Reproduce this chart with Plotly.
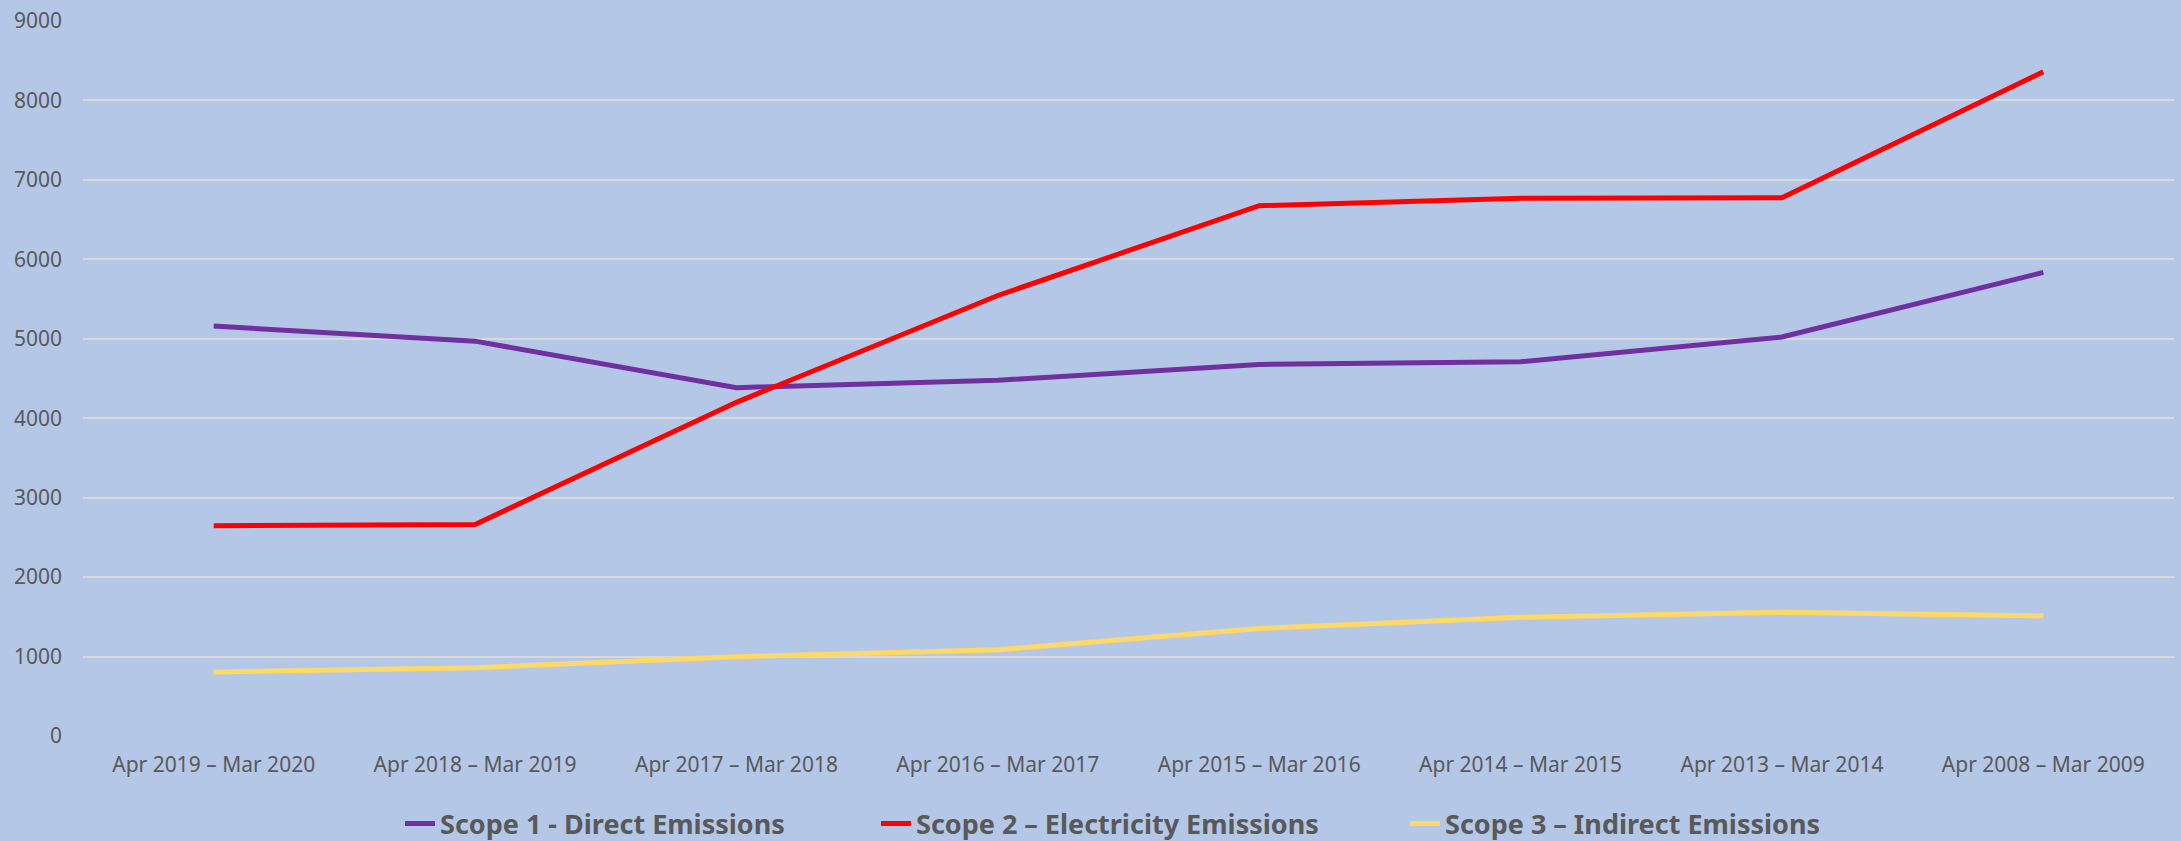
import plotly.graph_objects as go

categories = ["Apr 2019 – Mar 2020", "Apr 2018 – Mar 2019", "Apr 2017 – Mar 2018",
              "Apr 2016 – Mar 2017", "Apr 2015 – Mar 2016", "Apr 2014 – Mar 2015",
              "Apr 2013 – Mar 2014", "Apr 2008 – Mar 2009"]
scope1 = [5160, 4970, 4385, 4478, 4677, 4710, 5022, 5835]
scope2 = [2648, 2663, 4200, 5545, 6675, 6770, 6775, 8360]
scope3 = [806, 860, 998, 1085, 1354, 1495, 1557, 1513]

names = ["Scope 1 - Direct Emissions", "Scope 2 – Electricity Emissions", "Scope 3 – Indirect Emissions"]
colors = ["#7030A0", "#FF0000", "#FFD966"]
series = [scope1, scope2, scope3]
legends = ["legend", "legend2", "legend3"]

W, H = 2181, 841
ml, mr, mt, mb = 83, 7, 21, 105
pw = W - ml - mr
ph = H - mt - mb

fig = go.Figure()
for name, col, vals, lg in zip(names, colors, series, legends):
    fig.add_trace(go.Scatter(x=categories, y=vals, mode="lines", name=name,
                             line=dict(color=col, width=5), legend=lg))

legend_text_x = [442, 918, 1447]
legend_font = dict(family="Noto Sans", size=27, color="#595959", weight="bold")
leg_y = (H - 824) / H
layout_legends = {}
for lg, tx in zip(legends, legend_text_x):
    layout_legends[lg] = dict(x=(tx - 42) / W, xref="container", y=leg_y, yref="container",
                              xanchor="left", yanchor="middle",
                              orientation="h", font=legend_font, bgcolor="rgba(0,0,0,0)",
                              itemwidth=30)

fig.update_layout(
    width=W, height=H,
    margin=dict(l=ml, r=mr, t=mt, b=mb, autoexpand=False),
    paper_bgcolor="#B4C7E7", plot_bgcolor="#B4C7E7",
    showlegend=True,
    xaxis=dict(type="category", showgrid=False, zeroline=False, showline=False,
               tickfont=dict(family="Noto Sans", size=21, color="#595959"),
               ticklabelstandoff=14, range=[-0.5, 7.5]),
    yaxis=dict(range=[0, 9000], dtick=1000, showgrid=True, gridcolor="#D9D9D9", gridwidth=1.5,
               zeroline=False, showline=False,
               tickfont=dict(family="Noto Sans", size=21, color="#595959"),
               ticklabelstandoff=20),
    **layout_legends,
)

fig.write_html("out.html", config={"displayModeBar": False},
               post_script="document.body.style.margin='0';")
